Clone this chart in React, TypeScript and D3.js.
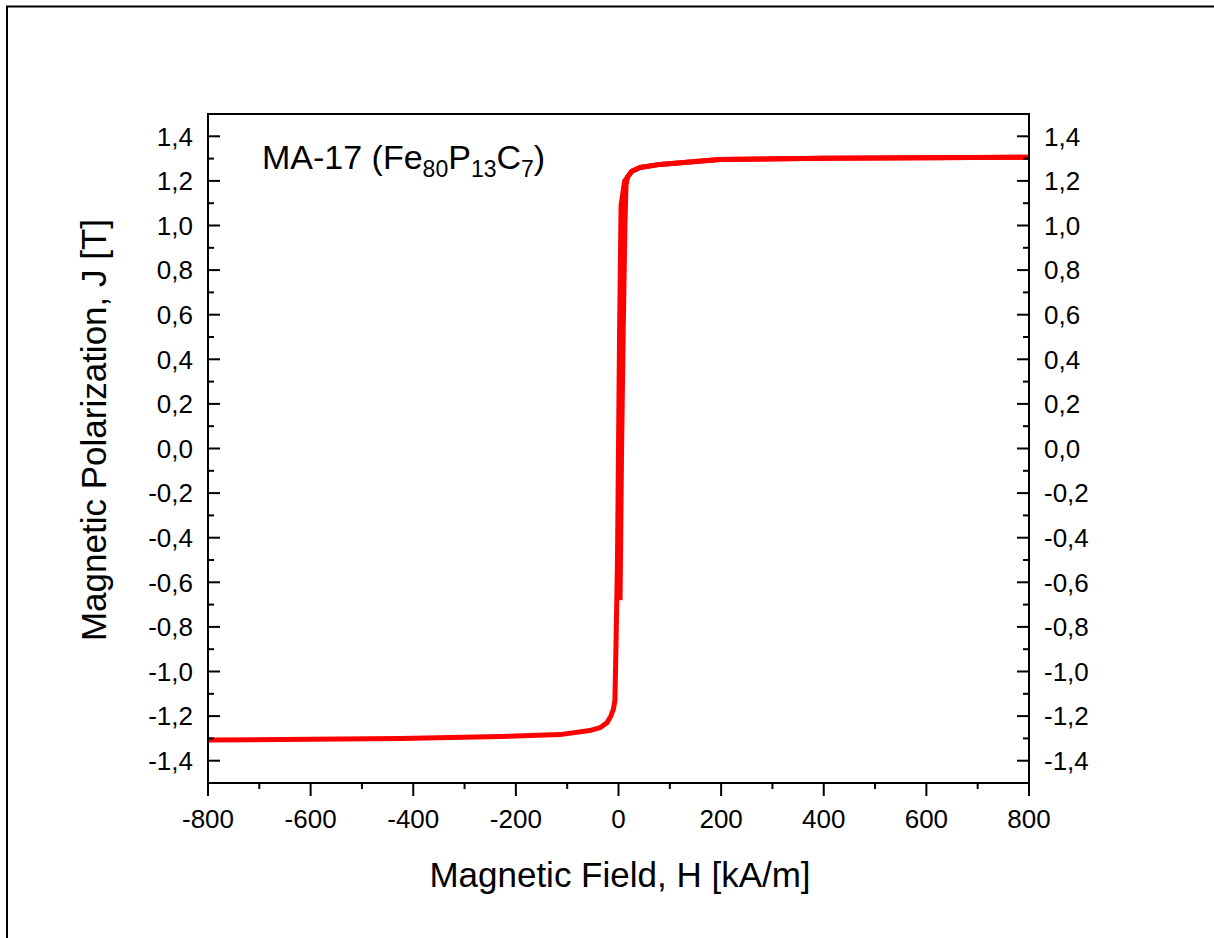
import React, { useEffect, useRef } from "react";
import * as d3 from "d3";

// Ascending branch (starts near J=-0.68 and rises to +800 kA/m)
const upH = [3, 6, 9, 12.5, 14.6, 18, 26, 42, 81, 197, 400, 600, 800];
const upJ = [-0.68, 0.0, 0.5, 1.0, 1.18, 1.22, 1.243, 1.26, 1.274, 1.296, 1.302, 1.304, 1.306];
// Descending branch (from +800 down to -800 kA/m)
const downH = [800, 600, 400, 197, 81, 42, 26, 12, 5, 2, -2, -5, -7, -10, -15, -22, -36, -56, -114, -230, -425, -600, -800];
const downJ = [1.306, 1.304, 1.302, 1.296, 1.274, 1.26, 1.243, 1.2, 1.09, 0.5, -0.5, -0.9, -1.13, -1.17, -1.2, -1.229, -1.252, -1.265, -1.283, -1.292, -1.301, -1.304, -1.307];

const xTicks = [-800, -600, -400, -200, 0, 200, 400, 600, 800];
const xMinor = [-700, -500, -300, -100, 100, 300, 500, 700];
const yTicks = [-1.4, -1.2, -1.0, -0.8, -0.6, -0.4, -0.2, 0, 0.2, 0.4, 0.6, 0.8, 1.0, 1.2, 1.4];
const yMinor = [-1.5, -1.3, -1.1, -0.9, -0.7, -0.5, -0.3, -0.1, 0.1, 0.3, 0.5, 0.7, 0.9, 1.1, 1.3, 1.5];

const xTitle = "Magnetic Field, H [kA/m]";
const yTitle = "Magnetic Polarization, J [T]";

const W = 1214;
const H = 938;
const L = 208, R = 1029, T = 114, B = 783;
const FONT = "Arial, 'Liberation Sans', Helvetica, sans-serif";

export default function App() {
  const ref = useRef<SVGSVGElement>(null);

  useEffect(() => {
    document.body.style.margin = "0";
    const svg = d3.select(ref.current);
    svg.selectAll("*").remove();

    const x = d3.scaleLinear().domain([-800, 800]).range([L, R]);
    const y = d3.scaleLinear().domain([-1.5, 1.5]).range([B, T]);
    const fmt = (v: number) => d3.format(".1f")(v).replace(".", ",").replace("−", "-");

    // outer frame
    svg.append("rect").attr("x", 7).attr("y", 6.5).attr("width", W + 20).attr("height", H + 20)
      .attr("fill", "none").attr("stroke", "#000").attr("stroke-width", 2);

    svg.append("clipPath").attr("id", "clip").append("rect")
      .attr("x", L).attr("y", T).attr("width", R - L).attr("height", B - T);

    // curves
    const line = d3.line<[number, number]>().x(d => x(d[0])).y(d => y(d[1]));
    const up: [number, number][] = upH.map((h, i) => [h, upJ[i]]);
    const down: [number, number][] = downH.map((h, i) => [h, downJ[i]]);
    const g = svg.append("g").attr("clip-path", "url(#clip)");
    [down, up].forEach(d => {
      g.append("path").attr("d", line(d)!).attr("fill", "none").attr("stroke", "#ff0000")
        .attr("stroke-width", 5).attr("stroke-linejoin", "round");
    });

    // plot frame
    svg.append("rect").attr("x", L).attr("y", T).attr("width", R - L).attr("height", B - T)
      .attr("fill", "none").attr("stroke", "#000").attr("stroke-width", 2);

    const ax = svg.append("g").attr("stroke", "#000").attr("stroke-width", 2);
    // x ticks (outward)
    xTicks.forEach(v => ax.append("line").attr("x1", x(v)).attr("x2", x(v)).attr("y1", B).attr("y2", B + 13));
    xMinor.forEach(v => ax.append("line").attr("x1", x(v)).attr("x2", x(v)).attr("y1", B).attr("y2", B + 6));
    // y ticks (inward, both sides)
    yTicks.forEach(v => {
      ax.append("line").attr("x1", L).attr("x2", L + 12).attr("y1", y(v)).attr("y2", y(v));
      ax.append("line").attr("x1", R).attr("x2", R - 12).attr("y1", y(v)).attr("y2", y(v));
    });
    yMinor.forEach(v => {
      ax.append("line").attr("x1", L).attr("x2", L + 6).attr("y1", y(v)).attr("y2", y(v));
      ax.append("line").attr("x1", R).attr("x2", R - 6).attr("y1", y(v)).attr("y2", y(v));
    });

    const txt = svg.append("g").attr("font-family", FONT).attr("fill", "#000");
    xTicks.forEach(v => txt.append("text").attr("x", x(v)).attr("y", 828).attr("text-anchor", "middle")
      .attr("font-size", 26).text(String(v)));
    yTicks.forEach(v => {
      txt.append("text").attr("x", L - 15).attr("y", y(v) + 9.3).attr("text-anchor", "end")
        .attr("font-size", 26).text(fmt(v));
      txt.append("text").attr("x", R + 15).attr("y", y(v) + 9.3).attr("text-anchor", "start")
        .attr("font-size", 26).text(fmt(v));
    });

    txt.append("text").attr("x", 620).attr("y", 887).attr("text-anchor", "middle")
      .attr("font-size", 35).text(xTitle);
    txt.append("text").attr("transform", "translate(106,430) rotate(-90)").attr("text-anchor", "middle")
      .attr("font-size", 35).text(yTitle);

    const ann = txt.append("text").attr("x", 262).attr("y", 169).attr("font-size", 34);
    ann.append("tspan").text("MA-17 (Fe");
    ann.append("tspan").attr("font-size", 23).attr("dy", 8).text("80");
    ann.append("tspan").attr("dy", -8).text("P");
    ann.append("tspan").attr("font-size", 23).attr("dy", 8).text("13");
    ann.append("tspan").attr("dy", -8).text("C");
    ann.append("tspan").attr("font-size", 23).attr("dy", 8).text("7");
    ann.append("tspan").attr("dy", -8).text(")");
  }, []);

  return (
    <svg ref={ref} width={W} height={H} style={{ position: "absolute", left: 0, top: 0, background: "#fff" }} />
  );
}
